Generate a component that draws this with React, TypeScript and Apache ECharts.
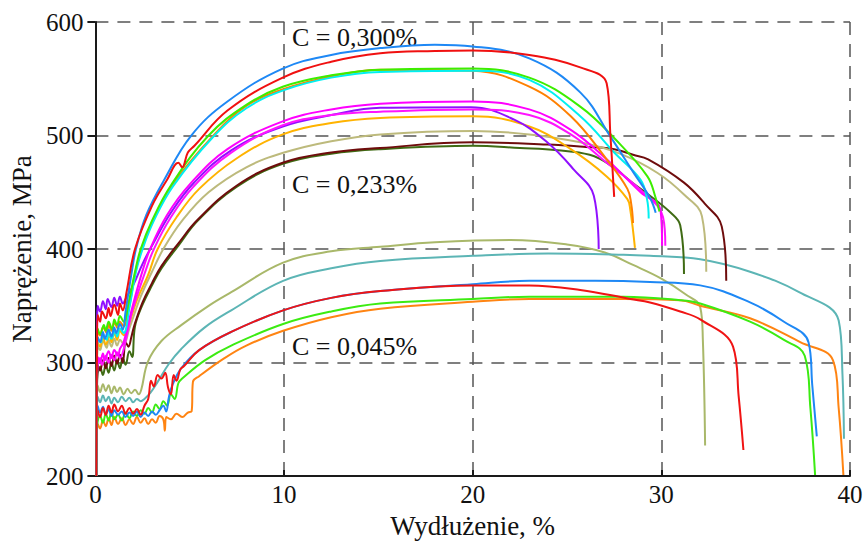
import { useEffect, useRef } from "react";
import * as echarts from "echarts";

// ---- axis ranges / ticks ----
const X_MIN = 0;
const X_MAX = 40;
const X_STEP = 10;
const Y_MIN = 200;
const Y_MAX = 600;
const Y_STEP = 100;

const X_TITLE = "Wydłużenie, %";
const Y_TITLE = "Naprężenie, MPa";
const ANNOTATIONS = ["C = 0,300%", "C = 0,233%", "C = 0,045%"];

// ---- C = 0,300% group ----
const hiBlue = [[0.05,200],[0.08,290],[0.12,322],[0.25,318],[0.4,327],[0.5,321],[0.7,329],[0.85,323],[1.0,331],[1.1,326],[1.3,334],[1.45,329],[1.6,345],[1.9,377],[2.15,400],[2.7,430],[3.65,461],[5.08,500],[7.0,530],[9.93,559],[12.5,571],[15.1,577],[18,580],[20,578.5],[23,568],[25.7,538],[27.3,499],[28.5,468],[29.4,445],[29.7,432]];
const hiRed = [[0.05,200],[0.08,300],[0.12,342],[0.25,336],[0.35,345],[0.55,339],[0.7,348],[0.8,341],[1.0,351],[1.2,342],[1.3,352],[1.45,346],[1.65,362],[2.1,400],[3.0,438],[3.8,461],[4.4,476],[4.6,472],[4.9,485],[5.25,491],[7.0,522],[9.93,551],[12.5,565],[15.1,572.5],[18,574.5],[20,575],[23,571],[25.7,560],[27.1,546],[27.3,500],[27.5,446]];
const hiGreen = [[0.05,200],[0.08,295],[0.12,330],[0.25,325],[0.45,333],[0.55,328],[0.7,336],[0.9,329],[1.0,338],[1.15,333],[1.3,341],[1.5,336],[1.75,352],[2.1,380],[2.4,400],[3.0,425],[4.0,456],[6.0,500],[8.0,527],[9.93,543],[12.5,553],[15.1,558],[20,559],[23,551],[25.7,525.5],[27.6,496],[29.26,464],[29.7,445],[29.9,433]];
const hiCyan = [[0.05,200],[0.08,290],[0.12,322],[0.3,318],[0.4,325],[0.6,320],[0.7,327],[0.85,321],[1.05,328],[1.15,323],[1.3,330],[1.5,326],[1.8,348],[2.15,380],[2.5,400],[3.1,425],[4.1,455],[6.2,498],[8.0,524],[10,540],[12.5,551],[15.1,556],[20,557],[23,549],[25.7,517],[27.5,485],[28.9,461],[29.24,444],[29.33,427]];
const hiOrange = [[0.05,200],[0.08,292],[0.12,328],[0.25,324],[0.4,331],[0.6,326],[0.7,334],[0.85,328],[1.0,335],[1.2,330],[1.3,336],[1.5,332],[1.8,350],[2.15,382],[2.5,402],[3.1,427],[4.1,457],[6.2,499],[8.0,526],[10,541],[12.5,552],[15.1,558],[20,557],[23,543],[25.2,517],[27.1,479],[28.2,453],[28.4,440],[28.5,423]];

// ---- C = 0,233% group ----
const midMagentaA = [[0.05,200],[0.08,280],[0.12,305],[0.25,300],[0.4,308],[0.5,302],[0.7,310],[0.85,304],[1.0,311],[1.2,306],[1.3,312],[1.5,318],[1.9,345],[2.43,377],[2.9,400],[3.8,430],[5.0,457],[7.0,488],[9.93,512.5],[12.5,523],[15.1,528],[20,530],[23,523],[25.2,505],[27.1,479],[28.9,450],[29.95,435],[30.04,403]];
const midMagentaB = [[0.05,200],[0.08,278],[0.12,298],[0.25,304],[0.35,298],[0.55,306],[0.7,300],[0.85,307],[1.0,302],[1.15,309],[1.3,304],[1.5,312],[1.95,345],[2.6,378],[3.1,400],[4.0,428],[5.2,455],[7.2,485],[9.93,509],[12.5,518],[15.1,521],[20,523],[23,518],[25.2,501],[27.1,476],[28.9,452],[30.09,428],[30.21,403]];
const midPurple = [[0.05,200],[0.08,300],[0.12,350],[0.25,345],[0.4,354],[0.55,347],[0.65,356],[0.85,349],[1.0,357],[1.15,350],[1.3,358],[1.45,352],[1.6,356],[2.0,368],[2.5,387],[3.0,403],[4.0,432],[5.2,458],[7.2,487],[9.93,508],[12.5,518],[15.1,524.5],[19.9,525],[22.2,514],[23.95,494],[25.36,470],[26.42,447],[26.68,400]];
const midYellow = [[0.05,200],[0.08,285],[0.12,318],[0.25,314],[0.4,322],[0.55,316],[0.75,324],[0.85,318],[1.0,326],[1.15,320],[1.3,328],[1.5,324],[1.7,330],[2.2,355],[2.79,377],[3.3,400],[4.3,428],[5.5,453],[7.5,480],[9.93,501],[12.5,511],[15.1,515.5],[20,517],[23,508],[25.2,488],[27.1,464],[28.2,444],[28.35,435],[28.6,401]];
const midKhaki = [[0.05,200],[0.08,280],[0.12,315],[0.25,311],[0.4,319],[0.6,313],[0.7,320],[0.85,314],[1.0,321],[1.15,315],[1.3,320],[1.5,316],[1.8,330],[2.4,358],[3.0,380],[3.6,400],[4.6,425],[6.0,450],[8.0,472],[10,485],[12.5,495],[15.1,501],[20,504],[23,501],[25.7,494],[27.8,484],[29.8,467],[31.2,448],[32.15,429],[32.38,380]];
const midBrown = [[0.05,200],[0.08,280],[0.12,298],[0.25,293],[0.4,302],[0.55,295],[0.7,304],[0.85,297],[1.0,306],[1.15,299],[1.3,307],[1.45,300],[1.6,318],[1.75,314],[1.9,322],[2.05,332],[2.5,353],[3.0,370],[3.5,385],[4.4,405],[5.43,426],[7.5,456],[9.93,476],[12.5,485],[15.1,489],[20,494],[23.95,492],[26,490],[27.5,488],[28.5,483],[29.3,479],[31.2,458.5],[32.3,440],[33.2,420],[33.44,372]];
const midDarkGreen = [[0.05,200],[0.08,275],[0.12,290],[0.25,296],[0.4,289],[0.55,298],[0.7,291],[0.85,300],[1.0,293],[1.15,302],[1.3,295],[1.45,304],[1.6,298],[1.8,310],[1.95,305],[2.1,332],[2.5,351],[3.0,368],[3.5,383],[4.4,403],[5.43,425],[7.5,455],[9.93,475],[12.5,484],[15.1,488],[20,491],[22.5,489],[24.5,487],[26.2,483],[27.3,474],[28.5,458],[29.24,449],[30.5,432],[31.0,421],[31.2,378]];

// ---- C = 0,045% group ----
const loKhaki = [[0.05,200],[0.08,262],[0.12,280],[0.25,274],[0.4,281],[0.55,275],[0.7,280],[0.85,273],[1.0,279],[1.15,274],[1.3,278],[1.5,272],[1.7,277],[1.9,273],[2.1,276],[2.3,272],[2.43,276],[2.79,301],[3.5,319],[4.55,333],[6.0,350],[7.2,362],[9.95,388],[12.5,398],[15.1,402],[18,406],[22,408],[25,404],[27,397],[28.5,386],[30,374],[31.3,360],[32.06,349],[32.2,320],[32.32,227]];
const loTeal = [[0.05,200],[0.08,255],[0.12,270],[0.25,265],[0.4,271],[0.55,266],[0.7,270],[0.85,264],[1.0,269],[1.2,265],[1.4,270],[1.6,266],[1.8,269],[2.0,265],[2.2,268],[2.4,266],[2.6,268],[2.9,273],[3.3,283],[3.9,299],[4.55,312],[5.8,331],[7.2,346],[9.95,372],[12.5,383],[15.1,389.5],[20,394],[24,396],[28,395],[29.4,394],[32.06,391],[34.7,380],[37.3,362],[39.4,337],[39.6,290],[39.68,233]];
const loBlue = [[0.05,200],[0.08,245],[0.12,262],[0.25,256],[0.4,261],[0.55,254],[0.7,259],[0.85,253],[1.0,258],[1.2,254],[1.4,257],[1.6,252],[1.8,256],[2.0,253],[2.2,257],[2.4,252],[2.6,256],[2.8,253],[3.0,257],[3.2,254],[3.4,258],[3.6,262],[3.75,257],[3.9,270],[4.1,281],[4.55,295],[5.5,311],[7.2,327],[9.95,346],[12.5,357],[15.1,363],[20,369],[23,372],[26.5,372],[29.4,371],[32.06,368],[34.7,353],[36.5,336],[37.8,318],[38.0,280],[38.24,235]];
const loRed = [[0.05,200],[0.08,240],[0.12,258],[0.25,252],[0.4,260],[0.55,254],[0.7,262],[0.85,256],[1.0,263],[1.2,257],[1.4,262],[1.6,255],[1.8,260],[2.0,255],[2.2,259],[2.4,254],[2.6,262],[2.8,268],[2.95,284],[3.1,279],[3.3,289],[3.5,286],[3.7,291],[3.85,278],[4.0,272],[4.15,289],[4.3,284],[4.5,294],[4.7,297],[5.5,311],[7.2,327],[9.95,346],[12.5,357],[15.1,363],[20,368],[23,368],[25.7,364],[28.36,356],[29.4,353],[31,345],[32.06,338],[33.8,314],[34.1,270],[34.35,223]];
const loGreen = [[0.05,200],[0.08,238],[0.12,248],[0.25,253],[0.4,247],[0.55,255],[0.7,249],[0.85,256],[1.0,250],[1.2,254],[1.4,249],[1.6,256],[1.8,251],[2.0,257],[2.2,253],[2.4,258],[2.6,255],[2.8,260],[3.0,256],[3.2,263],[3.4,259],[3.6,266],[3.8,262],[4.0,272],[4.2,268],[4.4,282],[4.6,286],[5.8,302],[7.2,315],[9.95,334],[12.5,345],[15.1,352],[20,356],[23,358],[28,358],[31,355],[32.06,352],[34.7,336],[36.5,320],[37.6,306],[37.9,260],[38.15,201]];
const loOrange = [[0.05,200],[0.08,235],[0.12,246],[0.25,242],[0.4,249],[0.55,244],[0.7,251],[0.85,245],[1.0,252],[1.2,246],[1.4,251],[1.6,245],[1.8,250],[2.0,246],[2.2,252],[2.4,247],[2.6,251],[2.8,246],[3.0,250],[3.2,247],[3.4,253],[3.6,250],[3.68,240],[3.76,252],[4.0,250],[4.3,255],[4.6,252],[4.9,256],[5.1,257],[5.17,283],[5.5,288],[6.8,303.5],[8.0,315],[9.95,328],[12.5,340],[15.1,347.5],[20,353.5],[23,356],[28,356],[31,355],[32.06,350],[34.7,339],[37.36,318],[39.1,302],[39.4,260],[39.65,201]];

const CURVES: { name: string; data: number[][]; color: string }[] = [
  { name: "0,045% A", data: loKhaki, color: "#a9b86a" },
  { name: "0,045% B", data: loTeal, color: "#5cb5b5" },
  { name: "0,045% C", data: loOrange, color: "#ff8412" },
  { name: "0,045% D", data: loGreen, color: "#3ceb12" },
  { name: "0,045% E", data: loBlue, color: "#1e88f5" },
  { name: "0,045% F", data: loRed, color: "#f01414" },
  { name: "0,233% A", data: midDarkGreen, color: "#3f6b14" },
  { name: "0,233% B", data: midBrown, color: "#6e0c0c" },
  { name: "0,233% C", data: midKhaki, color: "#bdba7c" },
  { name: "0,233% D", data: midYellow, color: "#ffb300" },
  { name: "0,233% E", data: midPurple, color: "#9010ff" },
  { name: "0,233% F", data: midMagentaB, color: "#ff14ff" },
  { name: "0,233% G", data: midMagentaA, color: "#ff00ff" },
  { name: "0,300% A", data: hiOrange, color: "#ff8000" },
  { name: "0,300% B", data: hiCyan, color: "#00f0f0" },
  { name: "0,300% C", data: hiGreen, color: "#3cee00" },
  { name: "0,300% D", data: hiBlue, color: "#1e88f5" },
  { name: "0,300% E", data: hiRed, color: "#f01010" },
];

const FONT = '"Liberation Serif", "Times New Roman", serif';

export default function App() {
  const ref = useRef<HTMLDivElement>(null);
  useEffect(() => {
    if (!ref.current) return;
    const chart = echarts.init(ref.current, undefined, { renderer: "svg" });
    const grid = { left: 94, top: 22, right: 16, bottom: 66 };
    chart.setOption({
      animation: false,
      backgroundColor: "#ffffff",
      grid,
      xAxis: {
        type: "value",
        min: X_MIN,
        max: X_MAX,
        interval: X_STEP,
        name: X_TITLE,
        nameLocation: "middle",
        nameGap: 31,
        nameTextStyle: { fontFamily: FONT, fontSize: 27, color: "#111" },
        axisLine: { show: true, onZero: false, lineStyle: { color: "#1a1a1a", width: 2 } },
        axisTick: { show: true, inside: true, length: 6, lineStyle: { color: "#1a1a1a", width: 2 } },
        axisLabel: { fontFamily: FONT, fontSize: 25, color: "#111", margin: 6 },
        splitLine: { show: true, lineStyle: { color: "#555", width: 1.5, type: [13, 9] } },
      },
      yAxis: {
        type: "value",
        min: Y_MIN,
        max: Y_MAX,
        interval: Y_STEP,
        name: Y_TITLE,
        nameLocation: "middle",
        nameRotate: 90,
        nameGap: 56,
        nameTextStyle: { fontFamily: FONT, fontSize: 27, color: "#111" },
        axisLine: { show: true, onZero: false, lineStyle: { color: "#1a1a1a", width: 2 } },
        axisTick: { show: true, inside: false, length: 8, lineStyle: { color: "#1a1a1a", width: 2 } },
        axisLabel: { fontFamily: FONT, fontSize: 25, color: "#111", margin: 12 },
        splitLine: { show: true, lineStyle: { color: "#555", width: 1.5, type: [13, 9] } },
      },
      graphic: [
        { type: "text", x: 292, y: 37, style: { text: ANNOTATIONS[0], fontFamily: FONT, fontSize: 26, fill: "#111", verticalAlign: "middle" } },
        { type: "text", x: 292, y: 184, style: { text: ANNOTATIONS[1], fontFamily: FONT, fontSize: 26, fill: "#111", verticalAlign: "middle" } },
        { type: "text", x: 292, y: 346, style: { text: ANNOTATIONS[2], fontFamily: FONT, fontSize: 26, fill: "#111", verticalAlign: "middle" } },
      ],
      series: CURVES.map((c) => ({
        name: c.name,
        type: "line",
        data: c.data,
        showSymbol: false,
        symbol: "none",
        smooth: 0.4,
        clip: true,
        lineStyle: { color: c.color, width: 2 },
        z: 3,
      })),
    });
    return () => chart.dispose();
  }, []);
  return <div ref={ref} style={{ width: 866, height: 544, position: "absolute", left: 0, top: 0 }} />;
}
